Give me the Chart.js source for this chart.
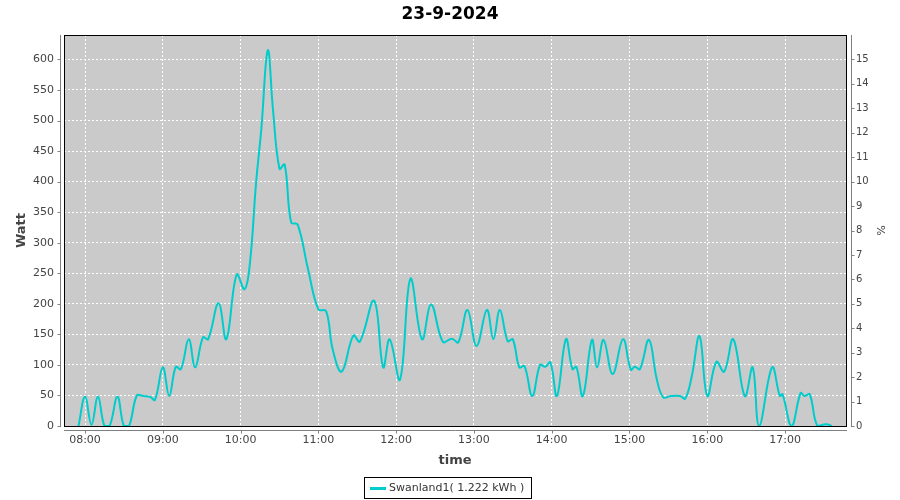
<!DOCTYPE html>
<html>
<head>
<meta charset="utf-8">
<script src="https://cdn.jsdelivr.net/npm/chart.js@4.4.1/dist/chart.umd.min.js"></script>
<style>
html,body{margin:0;padding:0;background:#ffffff;}
#wrap{width:900px;height:500px;position:relative;}
</style>
</head>
<body>
<div id="wrap"><canvas id="c" width="900" height="500"></canvas></div>
<script>
// ---- data ----
const chartTitle = "23-9-2024";
const seriesLabel = "Swanland1( 1.222 kWh )";
const yTitle = "Watt";
const y2Title = "%";
const xTitle = "time";

const times = ["07:55","08:00","08:05","08:10","08:15","08:19","08:25","08:30","08:34","08:40",
  "08:45","08:50","08:54","09:00","09:05","09:10","09:14","09:20","09:25","09:31",
  "09:35","09:43","09:49","09:57","10:03","10:07","10:12","10:16","10:21","10:25",
  "10:30","10:34","10:39","10:44","10:52","11:00","11:06","11:11","11:18","11:27",
  "11:32","11:43","11:50","11:55","12:03","12:11","12:20","12:27","12:36","12:43",
  "12:48","12:55","13:02","13:10","13:15","13:20","13:26","13:30","13:35","13:39",
  "13:45","13:51","13:55","13:59","14:04","14:11","14:16","14:19","14:24","14:31",
  "14:35","14:40","14:47","14:55","15:01","15:04","15:08","15:15","15:21","15:26",
  "15:32","15:39","15:43","15:48","15:54","16:00","16:07","16:13","16:20","16:29",
  "16:35","16:40","16:50","16:56","16:58","17:05","17:12","17:15","17:19","17:25",
  "17:32","17:36"];
const watts = [0,48,2,48,0,0,48,0,0,50,
  49,48,43,96,49,97,93,142,96,145,
  142,201,142,248,224,262,399,486,615,518,
  421,428,333,330,257,191,188,126,89,148,
  138,205,96,142,76,241,142,199,138,143,
  137,190,131,190,142,190,139,142,96,98,
  49,100,97,104,49,142,93,97,49,141,
  96,141,85,142,92,97,93,141,77,47,
  49,49,45,81,147,49,105,89,142,49,
  96,0,96,49,52,0,54,49,52,0,
  3,0];

const hourTicks = ["08:00","09:00","10:00","11:00","12:00","13:00","14:00","15:00","16:00","17:00"];
const wattTicks = [0,50,100,150,200,250,300,350,400,450,500,550,600];
const pctTicks = [0,1,2,3,4,5,6,7,8,9,10,11,12,13,14,15];

// ---- helpers ----
const toMin = s => { const [h,m] = s.split(":").map(Number); return h*60+m; };
const points = times.map((t,i) => ({x: toMin(t), y: watts[i]}));
const xMin = 463.8, xMax = 1067;
const yMax = 640, y2Max = yMax / 40;

Chart.defaults.font.family = "'DejaVu Sans', sans-serif";
Chart.defaults.color = "#444444";

const LINE = "rgb(0,204,204)";

const framePlugin = {
  id: "framePlugin",
  beforeDraw(chart) {
    const {ctx, chartArea: a} = chart;
    ctx.save();
    ctx.fillStyle = "#cacaca";
    ctx.fillRect(a.left, a.top, a.right - a.left, a.bottom - a.top);
    ctx.restore();
  },
  afterDatasetsDraw(chart) {
    const {ctx, chartArea: a} = chart;
    ctx.save();
    ctx.strokeStyle = "#000000";
    ctx.lineWidth = 1;
    ctx.strokeRect(a.left + 0.5, a.top + 0.5, a.right - a.left, a.bottom - a.top);
    ctx.restore();
  },
  afterDraw(chart) {
    const {ctx, chartArea: a, scales} = chart;
    ctx.save();
    ctx.strokeStyle = "#808080";
    ctx.lineWidth = 1;
    // left axis
    const lx = a.left - 3.5;
    ctx.beginPath(); ctx.moveTo(lx, a.top); ctx.lineTo(lx, a.bottom + 1); ctx.stroke();
    wattTicks.forEach(v => {
      const y = Math.round(scales.y.getPixelForValue(v)) + 0.5;
      ctx.beginPath(); ctx.moveTo(lx - 3, y); ctx.lineTo(lx, y); ctx.stroke();
    });
    // right axis
    const rx = a.right + 5.5;
    ctx.beginPath(); ctx.moveTo(rx, a.top); ctx.lineTo(rx, a.bottom + 1); ctx.stroke();
    pctTicks.forEach(v => {
      const y = Math.round(scales.y2.getPixelForValue(v)) + 0.5;
      ctx.beginPath(); ctx.moveTo(rx, y); ctx.lineTo(rx + 3, y); ctx.stroke();
    });
    // bottom axis
    const by = a.bottom + 4.5;
    ctx.beginPath(); ctx.moveTo(a.left, by); ctx.lineTo(a.right + 1, by); ctx.stroke();
    hourTicks.forEach(t => {
      const x = Math.round(scales.x.getPixelForValue(toMin(t))) + 0.5;
      ctx.beginPath(); ctx.moveTo(x, by); ctx.lineTo(x, by + 3); ctx.stroke();
    });
    // legend
    const ds = chart.data.datasets[0];
    ctx.font = "11px 'DejaVu Sans', sans-serif";
    const tw = ctx.measureText(ds.label).width;
    const bw = 6 + 16 + 3 + tw + 7;
    const bx = Math.round(448 - bw / 2) + 0.5;
    const byTop = 477.5, bh = 21;
    ctx.strokeStyle = "#000000";
    ctx.strokeRect(bx, byTop, Math.round(bw), bh);
    ctx.strokeStyle = ds.borderColor;
    ctx.lineWidth = 3;
    ctx.beginPath(); ctx.moveTo(bx + 5.5, 488.5); ctx.lineTo(bx + 21.5, 488.5); ctx.stroke();
    ctx.fillStyle = "#333333";
    ctx.textBaseline = "middle";
    ctx.textAlign = "left";
    ctx.fillText(ds.label, bx + 24.5, 488.5);
    ctx.restore();
  }
};

new Chart(document.getElementById("c"), {
  type: "line",
  data: {
    datasets: [{
      label: seriesLabel,
      data: points,
      borderColor: LINE,
      backgroundColor: LINE,
      borderWidth: 2,
      pointRadius: 0,
      tension: 0.4,
      fill: false,
      clip: 0,
      yAxisID: "y"
    }]
  },
  options: {
    responsive: false,
    animation: false,
    layout: {padding: {top: 0, left: 0, right: 0, bottom: 32}},
    plugins: {
      legend: {display: false},
      tooltip: {enabled: false},
      title: {
        display: true,
        text: chartTitle,
        color: "#000000",
        font: {size: 17, weight: "bold", family: "'DejaVu Sans', sans-serif"},
        padding: {top: 4, bottom: 10.6}
      }
    },
    scales: {
      x: {
        type: "linear",
        min: xMin, max: xMax,
        afterFit: s => { s.height = 42; },
        afterBuildTicks: s => { s.ticks = hourTicks.map(t => ({value: toMin(t)})); },
        ticks: {
          callback: (v, i) => hourTicks[i],
          font: {size: 11},
          color: "#444444",
          padding: 8,
          maxRotation: 0,
          autoSkip: false
        },
        grid: {color: "#ffffff", lineWidth: 1, drawTicks: false},
        border: {display: false, dash: [2, 2]},
        title: {display: true, text: xTitle, color: "#444444", font: {size: 13, weight: "bold"}, padding: {top: 0, bottom: 0}}
      },
      y: {
        position: "left",
        min: 0, max: yMax,
        afterFit: s => { s.width = 64; },
        afterBuildTicks: s => { s.ticks = wattTicks.map(v => ({value: v})); },
        ticks: {font: {size: 11}, color: "#444444", padding: 10},
        grid: {color: "#ffffff", lineWidth: 1, drawTicks: false},
        border: {display: false, dash: [2, 2]},
        title: {display: true, text: yTitle, color: "#444444", font: {size: 13, weight: "bold"}, padding: {top: 13.6, bottom: 0}}
      },
      y2: {
        position: "right",
        min: 0, max: y2Max,
        afterFit: s => { s.width = 54; },
        afterBuildTicks: s => { s.ticks = pctTicks.map(v => ({value: v})); },
        ticks: {font: {size: 10}, color: "#444444", padding: 10},
        grid: {display: false, drawOnChartArea: false, drawTicks: false},
        border: {display: false},
        title: {display: true, text: y2Title, color: "#444444", font: {size: 11}, padding: {top: 13.4, bottom: 0}}
      }
    }
  },
  plugins: [framePlugin]
});
</script>
</body>
</html>
